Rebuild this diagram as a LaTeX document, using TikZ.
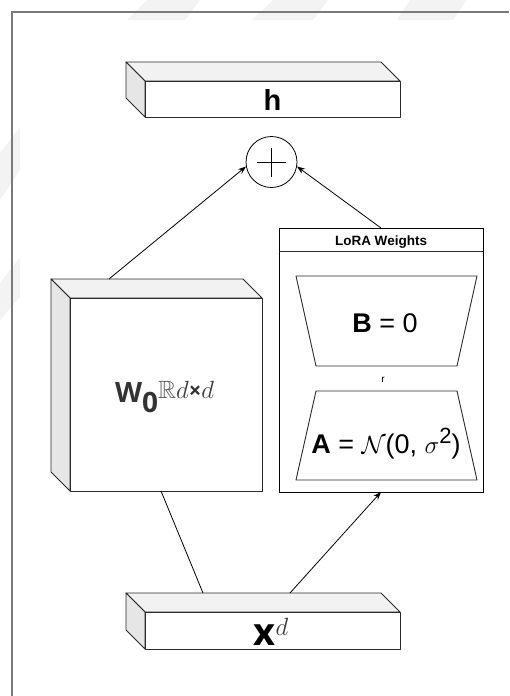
\documentclass[tikz,border=0pt]{standalone}
\usepackage{fontspec}
\usepackage{amssymb}
\setmainfont{Liberation Sans}
\newfontfamily\osans{Open Sans}
\usetikzlibrary{arrows.meta}
\definecolor{topgray}{HTML}{F2F2F2}
\definecolor{sidegray}{HTML}{E6E6E6}
\definecolor{edgegray}{HTML}{2A2A2A}
\definecolor{framegray}{HTML}{7A7A7A}
\definecolor{wmgray}{HTML}{F3F3F3}
\definecolor{wtext}{HTML}{333333}
\definecolor{rgray}{HTML}{5A5A5A}
\definecolor{dgray}{HTML}{3C3C3C}
\newcommand\mycuboid[5]{%
  \filldraw[face, fill=topgray] ({#1-19},{#2-19}) -- ({#3-19},{#2-19}) -- (#3,#2) -- (#1,#2) -- cycle;
  \filldraw[face, fill=sidegray] ({#1-19},{#2-19}) -- (#1,#2) -- (#1,#4) -- ({#1-19},{#4-19}) -- cycle;
  \node[face, fill=white, inner sep=0pt, outer sep=0pt, minimum width={#3-#1}, minimum height={#4-#2}, anchor=north west] (#5) at (#1,#2) {};
}
\tikzset{
  face/.style={draw=edgegray, line width=0.9pt, line join=round},
  conn/.style={draw=black, line width=0.8pt},
  arr/.style={conn, -{Stealth[length=8pt,width=6pt]}},
  lbl/.style={inner sep=0pt, outer sep=0pt}
}
\begin{document}
\begin{tikzpicture}[x=1pt,y=-1pt]
\useasboundingbox (0,0) rectangle (509,696);
% faint watermark marks
\fill[wmgray] (147,0) -- (200,0) -- (185,20) -- (127,20) -- cycle;
\fill[wmgray] (273,0) -- (328,0) -- (313,20) -- (252,20) -- cycle;
\fill[wmgray] (410,0) -- (467,0) -- (453,20) -- (397,20) -- cycle;
\fill[wmgray] (20,127) -- (20,170) -- (0,200) -- (0,153) -- cycle;
\fill[wmgray] (20,257) -- (20,297) -- (0,320) -- (0,283) -- cycle;
% frame
\draw[framegray, line width=1.2pt] (12,696) -- (12,12) -- (509,12);

% cuboids
\mycuboid{145}{81}{400}{117}{hbox}
\mycuboid{70}{298}{262}{491}{wbox}
\mycuboid{145}{612}{400}{649}{xbox}

% connection points on cuboids
\coordinate (wtop) at (109,279);
\coordinate (wbot) at (161,491);
\coordinate (xtopL) at (203,593);
\coordinate (xtopR) at (290,593);

% texts of cuboids
\node[lbl, anchor=base] (htext) at (272.5,110) {\fontsize{29}{30}\selectfont\bfseries h};
\node[lbl, anchor=base] (wtext) at (164.5,402) {\color{wtext}{\osans\bfseries\fontsize{28}{28}\selectfont W}\raisebox{-10pt}{\osans\bfseries\fontsize{28}{30}\selectfont 0}\raisebox{4pt}{\fontsize{25}{25}\selectfont\color{rgray}$\mathbb{R}$\color{dgray}$d$\color{wtext}{\osans\bfseries\fontsize{22}{22}\selectfont ×}\color{dgray}$d$}};
\node[lbl, anchor=base] (xtext) at (271,645) {{\osans\bfseries\fontsize{38}{40}\selectfont x}\raisebox{10pt}{\fontsize{26}{26}\selectfont\color{dgray}$d$}};

% plus circle
\node[circle, draw=black, line width=0.8pt, fill=white, minimum size=51pt, inner sep=0pt] (plus) at (271.5,162) {};
\draw[conn] ([xshift=-14.5pt]plus.center) -- ([xshift=14.5pt]plus.center);
\draw[conn] ([yshift=14.5pt]plus.center) -- ([yshift=-14.5pt]plus.center);

% LoRA box
\node[draw=black, line width=0.9pt, fill=white, minimum width=204, minimum height=264, inner sep=0pt, outer sep=0pt, anchor=north west] (lora) at (279,228) {};
\draw[face] ([yshift=-23pt]lora.north west) -- ([yshift=-23pt]lora.north east);
\node[lbl, anchor=base] (loratitle) at (381,245) {\fontsize{13.5}{14}\selectfont\bfseries LoRA Weights};

% B trapezoid
\draw[face, fill=white] (296,276) -- (477,276) -- (457,366) -- (316,366) -- cycle;
\node[lbl, anchor=base] (btext) at (385,332) {\fontsize{27}{28}\selectfont\textbf{B} = 0};
% r
\node[lbl, anchor=base] (rtext) at (383,382) {\fontsize{10}{10}\selectfont r};
% A trapezoid
\draw[face, fill=white] (316,391) -- (457,391) -- (477,480) -- (296,480) -- cycle;
\node[lbl, anchor=base] (atext) at (386,453) {\fontsize{27}{28}\selectfont\textbf{A} = $\mathcal{N}$(0, $\sigma$\raisebox{10pt}{\fontsize{22}{22}\selectfont 2})};

% connectors
\draw[arr] (wtop) -- (plus.190);
\draw[arr] (lora.north) -- (plus.350);
\draw[conn] (xtopL) -- (wbot);
\draw[arr] (xtopR) -- (lora.south);
\end{tikzpicture}
\end{document}
